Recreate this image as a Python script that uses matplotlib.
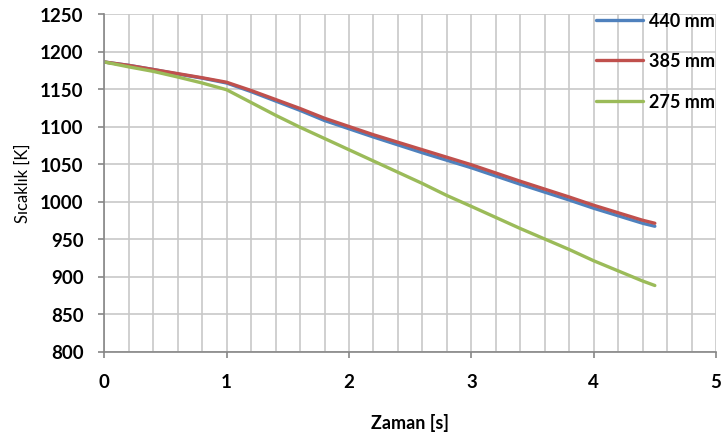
import matplotlib
matplotlib.use("Agg")
import matplotlib.pyplot as plt
import matplotlib.ticker as mticker

# Cooling curves for three plate thicknesses
time_s = [0, 0.2, 0.4, 0.6, 0.8, 1.0, 1.2, 1.4, 1.6, 1.8, 2.0, 2.2, 2.4, 2.6, 2.8, 3.0,
          3.4, 3.8, 4.0, 4.4, 4.5]
temp_440 = [1186, 1181.5, 1176, 1170, 1164.5, 1158, 1146.5, 1134, 1121.5, 1108, 1097, 1086,
            1075.5, 1065, 1055, 1045, 1023, 1002, 991, 971, 967]
temp_385 = [1186, 1181.5, 1176, 1170.5, 1165, 1159, 1148, 1136, 1124, 1111, 1100, 1089,
            1079, 1069, 1059, 1049, 1027, 1006, 995, 975, 971]
temp_275 = [1186, 1179.5, 1173.5, 1166, 1158, 1149, 1132, 1115, 1099, 1084, 1069, 1054,
            1039, 1024, 1008, 993.5, 964, 936, 921, 894, 888]
labels = ["440 mm", "385 mm", "275 mm"]
colors = ["#4F81BD", "#C0504D", "#9BBB59"]

plt.rcParams["font.family"] = ["Lato", "DejaVu Sans"]

fig = plt.figure(figsize=(7.25, 4.35), dpi=100)
ax = fig.add_axes([104.3 / 725, 1 - 352.5 / 435, (716 - 104.3) / 725, (352.5 - 15) / 435])

for temps, lab, col in zip([temp_440, temp_385, temp_275], labels, colors):
    ax.plot(time_s, temps, color=col, linewidth=2.4, label=lab, solid_capstyle="round")

ax.set_xlim(0, 5)
ax.set_ylim(800, 1250)
ax.xaxis.set_major_locator(mticker.MultipleLocator(1))
ax.xaxis.set_minor_locator(mticker.MultipleLocator(0.2))
ax.yaxis.set_major_locator(mticker.MultipleLocator(50))

ax.grid(which="both", axis="x", color="#C8C8C8", linewidth=1.2)
ax.grid(which="major", axis="y", color="#C8C8C8", linewidth=1.2)
ax.set_axisbelow(True)

for side in ["top", "right"]:
    ax.spines[side].set_visible(False)
for side in ["left", "bottom"]:
    ax.spines[side].set_color("#868686")
    ax.spines[side].set_linewidth(1.2)

ax.tick_params(axis="both", which="major", length=4, width=1.2, color="#868686",
               labelsize=13.5)
ax.tick_params(axis="x", which="major", pad=11.5)
ax.tick_params(axis="y", which="major", pad=11)
ax.tick_params(axis="x", which="minor", length=0)
for lbl in ax.get_xticklabels() + ax.get_yticklabels():
    lbl.set_fontweight("bold")

ax.set_xlabel("Zaman [s]", fontsize=13, fontweight="bold")
ax.set_ylabel("Sıcaklık [K]", fontsize=12)
ax.xaxis.set_label_coords(0.5, -0.183)
ax.yaxis.set_label_coords(-0.12, 0.5)

fig.legend(loc="upper left", bbox_to_anchor=(596 / 725, 1 - 13 / 435), frameon=False,
           handlelength=2.6, handletextpad=0.35, labelspacing=1.3,
           borderpad=0, borderaxespad=0, prop={"weight": "bold", "size": 13})

fig.savefig("out.png", dpi=100)
